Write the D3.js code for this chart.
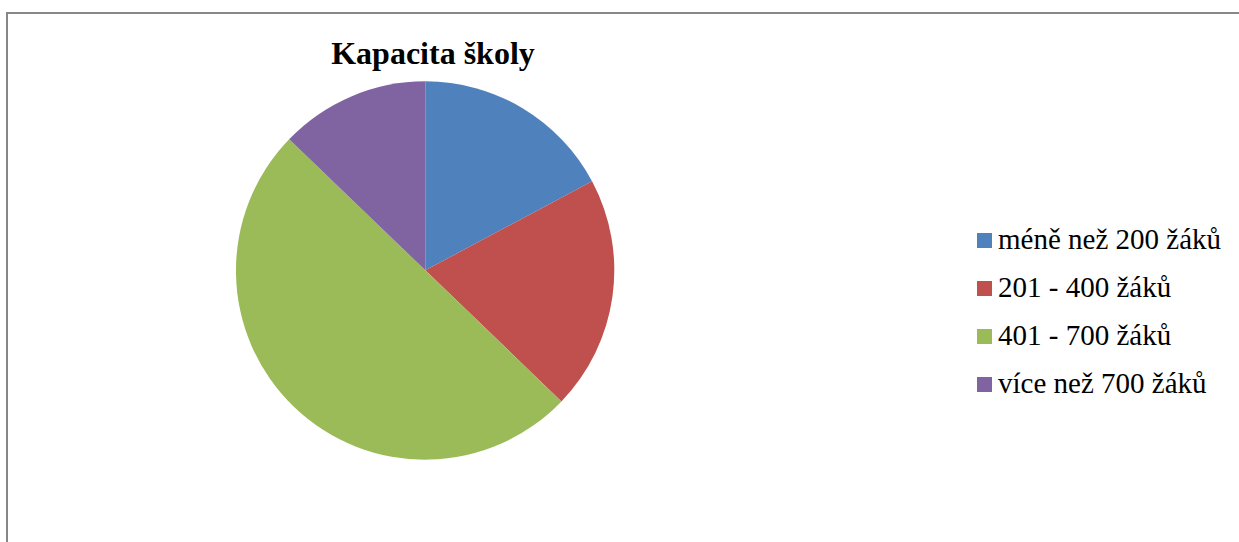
<!DOCTYPE html>
<html>
<head>
<meta charset="utf-8">
<script src="https://cdn.jsdelivr.net/npm/d3@7/dist/d3.min.js"></script>
<style>
  html, body { margin: 0; padding: 0; background: #fff; }
  svg { display: block; }
  text { font-family: "Liberation Serif", "Times New Roman", serif; fill: #000; }
</style>
</head>
<body>
<svg id="chart" width="1239" height="542"></svg>
<script>
// School capacity categories and their shares (%)
const categories = ["méně než 200 žáků", "201 - 400 žáků", "401 - 700 žáků", "více než 700 žáků"];
const values = [17.2, 20, 50, 12.8];
const colors = ["#4f81bd", "#c0504d", "#9bbb59", "#8064a2"];
const title = "Kapacita školy";

const svg = d3.select("#chart");

// chart area frame
svg.append("rect")
  .attr("x", 7).attr("y", 13)
  .attr("width", 1260).attr("height", 560)
  .attr("fill", "none")
  .attr("stroke", "#878787")
  .attr("stroke-width", 2);

svg.append("text")
  .attr("x", 433).attr("y", 64)
  .attr("text-anchor", "middle")
  .attr("font-weight", "bold")
  .attr("font-size", 32)
  .text(title);

const cx = 425.3, cy = 270.3, r = 189;
const pie = d3.pie().sort(null).value(d => d)(values);
const arc = d3.arc().innerRadius(0).outerRadius(r);

svg.append("g")
  .attr("transform", `translate(${cx},${cy})`)
  .selectAll("path")
  .data(pie)
  .join("path")
  .attr("d", arc)
  .attr("fill", (d, i) => colors[i]);

// legend
const legend = svg.append("g").attr("transform", "translate(977,0)");
const rowY = d3.scalePoint().domain(categories).range([249, 393]);
categories.forEach((c, i) => {
  const y = rowY(c);
  legend.append("rect")
    .attr("x", 0).attr("y", y - 16)
    .attr("width", 15).attr("height", 15)
    .attr("fill", colors[i]);
  legend.append("text")
    .attr("x", 21).attr("y", y)
    .attr("font-size", 29)
    .text(c);
});
</script>
</body>
</html>
